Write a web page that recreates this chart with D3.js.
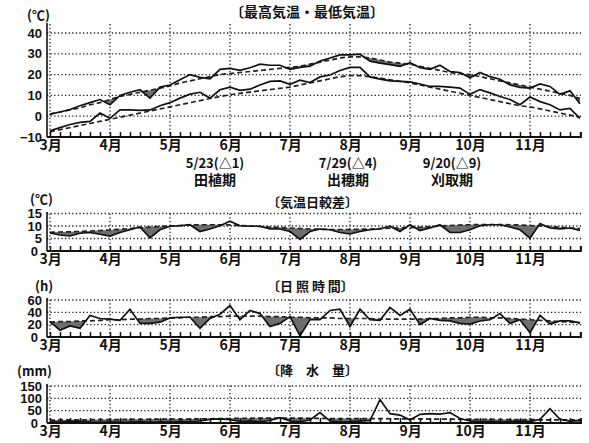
<!DOCTYPE html>
<html>
<head>
<meta charset="utf-8">
<script src="https://cdnjs.cloudflare.com/ajax/libs/d3/7.8.5/d3.min.js"></script>
<style>
body { margin: 0; background: #fff; }
text { font-family: "Noto Sans CJK JP", "DejaVu Sans", sans-serif; fill: #111; }
</style>
</head>
<body>
<div id="chart"></div>
<script>
// half-month (pentad) values, March 1st pentad .. November 6th pentad
var months = ['3月', '4月', '5月', '6月', '7月', '8月', '9月', '10月', '11月'];

var maxTemp = [1, 2, 3.2, 5, 6.5, 8, 5.5, 10, 11.5, 12.7, 8.7, 14, 15, 17.5, 20, 18.7, 18, 22.5,
    23, 22, 23.3, 25, 24.5, 24.5, 22.5, 23.5, 24, 26.5, 28, 29.5, 29.5, 29.8, 26.5, 25.5, 24.8, 24,
    25.7, 23.3, 22.5, 24.5, 21.5, 21, 18.5, 21, 19, 17.8, 15, 13.8, 13.5, 15.5, 14.3, 10.5, 12.2, 6];
var maxTempNormal = [1, 2, 3, 4, 5.5, 6.5, 8, 9.5, 10.5, 11.5, 12.5, 13.5, 14.5, 16, 17, 18, 19, 20,
    20.5, 21, 21.5, 22, 22.5, 23, 23.5, 24, 25, 26, 27, 28, 28.5, 28.5, 28, 27, 26, 25.5,
    25, 24, 23, 22, 21, 20.5, 20, 19, 18, 17, 16, 15, 14, 13, 12, 11, 10, 8.5];
var minTemp = [-7, -5.5, -4, -3, -2.5, 1.5, -1, 3, 3, 2.8, 3, 5, 6.5, 8.7, 10.6, 11.5, 8.7, 12.7,
    14, 12.4, 13, 15, 16.7, 17, 15.3, 17.3, 16.2, 18.9, 19.8, 22, 23.5, 23.5, 18.9, 17.8, 17, 16.7,
    16.5, 15.5, 14.3, 14.3, 14, 13.5, 10.5, 12.8, 11.2, 9.5, 8, 5.5, 9.2, 7, 5.5, 3, 3.8, -1];
var minTempNormal = [-7.5, -6.5, -5.5, -4.5, -3.5, -2.5, -1.5, -0.5, 0.5, 1.5, 2.5, 3.5, 4.5, 5.5, 6.5, 7.5, 8.5, 9.5,
    10.3, 11, 11.6, 12.2, 12.8, 13.4, 14, 15, 16, 17, 18, 19, 19.5, 19.5, 19, 18.3, 17.5, 16.8,
    16, 15, 14, 13, 12, 11, 10, 9, 8, 7, 6, 5, 4.5, 3.5, 2.5, 1.5, 0.5, -0.5];

var tempRange = [7.2, 6.4, 6, 7.1, 7.4, 6.7, 6, 7.4, 8.5, 9.6, 5.3, 8.5, 9.9, 10.1, 10.5, 7.8, 8.8, 10.1,
    11.9, 10.1, 9.9, 9.9, 8.8, 8.8, 7.8, 4.6, 7.8, 8.8, 8.5, 7.4, 6.8, 7.8, 8.5, 8.8, 9.9, 7.8,
    10.5, 8.2, 9.2, 10.5, 7.4, 7.4, 8.5, 10.1, 10.5, 10.5, 9.6, 8.5, 5.1, 11, 9.2, 8.8, 9.2, 8.2];
var tempRangeNormal = [7.5, 7.6, 7.7, 7.8, 8, 8.2, 8.4, 8.7, 9, 9.3, 9.6, 9.8, 10, 10.2, 10.4, 10.5, 10.5, 10.5,
    10.4, 10.2, 10, 9.8, 9.6, 9.4, 9.2, 9, 8.8, 8.7, 8.6, 8.6, 8.6, 8.7, 8.8, 9, 9.1, 9.2,
    9.3, 9.5, 9.7, 10, 10.2, 10.4, 10.5, 10.6, 10.6, 10.6, 10.5, 10.4, 10.2, 10, 9.8, 9.5, 9.2, 9];

var sunshine = [25, 11, 18, 14, 35, 30, 29, 27, 45, 22, 22, 24, 31, 32, 32, 14, 30, 37,
    51, 28, 43, 38, 17, 22, 33, 2, 28, 28, 43, 45, 17, 45, 28, 27, 48, 35,
    45, 20, 30, 27, 26, 22, 21, 26, 28, 38, 22, 28, 7, 35, 21, 26, 26, 23];
var sunshineNormal = [24, 25, 25, 26, 26, 27, 28, 28, 29, 29, 30, 30, 31, 31, 32, 32, 33, 33,
    34, 34, 34, 34, 33, 33, 32, 32, 31, 31, 31, 30, 30, 30, 30, 29, 29, 29,
    29, 29, 30, 30, 31, 31, 32, 32, 31, 31, 30, 29, 28, 27, 26, 25, 24, 23];

var rain = [5, 3, 8, 6, 4, 3, 5, 3, 4, 6, 3, 5, 4, 6, 5, 8, 15, 17,
    14, 6, 8, 5, 10, 22, 8, 5, 12, 42, 8, 5, 6, 8, 10, 95, 38, 32,
    12, 35, 38, 36, 42, 18, 8, 5, 6, 4, 6, 8, 5, 15, 58, 15, 8, 10];
var rainNormal = [12, 12, 13, 13, 13, 14, 14, 14, 15, 15, 15, 16, 16, 16, 16, 17, 17, 18,
    18, 19, 19, 20, 20, 20, 20, 20, 19, 19, 18, 18, 18, 18, 18, 18, 17, 17,
    17, 17, 16, 16, 16, 15, 15, 15, 15, 14, 14, 14, 14, 13, 13, 13, 13, 13];

// stage annotations
var stageIndex = [16.5, 29.8, 40.2];
var stageDate = ['5/23(△1)', '7/29(△4)', '9/20(△9)'];
var stageName = ['田植期', '出穂期', '刈取期'];

var width = 589;
var height = 443;
var axisLeftX = 47;
var axisRightX = 581;

var svg = d3.select('#chart')
    .append('svg')
    .attr('width', width)
    .attr('height', height);

var x_scale = d3.scaleLinear()
    .domain([0, 53])
    .range([50, 580]);

var pentads = d3.range(54);

var panels = [
    {title: '〔最高気温・最低気温〕', titleX: 230, titleY: 17, unit: '(℃)', unitX: 27, unitY: 20,
     domain: [-10, 40], ticks: [-10, 0, 10, 20, 30, 40], top: 33, bottom: 137, axisTop: 23,
     series: [[maxTemp, maxTempNormal], [minTemp, minTempNormal]]},
    {title: '〔気温日較差〕', titleX: 267, titleY: 207, unit: '(℃)', unitX: 30, unitY: 204,
     domain: [0, 15], ticks: [0, 5, 10, 15], top: 213.5, bottom: 251, axisTop: 212,
     series: [[tempRange, tempRangeNormal]]},
    {title: '〔日 照 時 間〕', titleX: 267, titleY: 291, unit: '(h)', unitX: 35, unitY: 291,
     domain: [0, 60], ticks: [0, 20, 40, 60], top: 300, bottom: 337, axisTop: 298,
     series: [[sunshine, sunshineNormal]]},
    {title: '〔降　水　量〕', titleX: 267, titleY: 375, unit: '(mm)', unitX: 17, unitY: 376,
     domain: [0, 150], ticks: [0, 50, 100, 150], top: 386, bottom: 423, axisTop: 384,
     series: [[rain, rainNormal]]}
];

var clipId = 0;

panels.forEach(function(p, k) {
    var g = svg.append('g');
    var y_scale = d3.scaleLinear().domain(p.domain).range([p.bottom, p.top]);

    // dotted grid
    g.selectAll('.hgrid')
        .data(p.ticks.slice(1))
        .enter()
        .append('line')
        .attr('x1', axisLeftX)
        .attr('x2', axisRightX)
        .attr('y1', function(d) { return y_scale(d); })
        .attr('y2', function(d) { return y_scale(d); })
        .attr('stroke', '#222')
        .attr('stroke-width', 1.3)
        .attr('stroke-dasharray', '1.3,2.3');

    g.selectAll('.vgrid')
        .data(d3.range(0, 54, 6))
        .enter()
        .append('line')
        .attr('x1', function(d) { return x_scale(d); })
        .attr('x2', function(d) { return x_scale(d); })
        .attr('y1', p.bottom)
        .attr('y2', p.axisTop)
        .attr('stroke', '#222')
        .attr('stroke-width', 1.3)
        .attr('stroke-dasharray', '1.3,2.3');

    // grey where observed is below normal
    p.series.forEach(function(s) {
        var obs = s[0], norm = s[1];
        clipId++;
        var belowNormal = d3.area()
            .x(function(i) { return x_scale(i); })
            .y0(height)
            .y1(function(i) { return y_scale(norm[i]); });
        svg.append('clipPath')
            .attr('id', 'clip' + clipId)
            .append('path')
            .attr('d', belowNormal(pentads));
        var aboveObs = d3.area()
            .x(function(i) { return x_scale(i); })
            .y0(function(i) { return y_scale(obs[i]); })
            .y1(0);
        g.append('path')
            .attr('d', aboveObs(pentads))
            .attr('clip-path', 'url(#clip' + clipId + ')')
            .attr('fill', '#6e6e6e');
    });

    // lines
    p.series.forEach(function(s) {
        var line = function(arr) {
            return d3.line()
                .x(function(i) { return x_scale(i); })
                .y(function(i) { return y_scale(arr[i]); })(pentads);
        };
        g.append('path')
            .attr('d', line(s[1]))
            .attr('fill', 'none')
            .attr('stroke', '#222')
            .attr('stroke-width', 1.7)
            .attr('stroke-dasharray', '5,3');
        g.append('path')
            .attr('d', line(s[0]))
            .attr('fill', 'none')
            .attr('stroke', '#111')
            .attr('stroke-width', 1.7);
    });

    // axes lines
    g.append('line')
        .attr('x1', axisLeftX).attr('x2', axisLeftX)
        .attr('y1', p.bottom).attr('y2', p.axisTop)
        .attr('stroke', '#111').attr('stroke-width', 1.6);
    g.append('path')
        .attr('d', 'M' + axisLeftX + ',' + p.bottom + 'H' + axisRightX + 'V' + (p.bottom - 5))
        .attr('fill', 'none')
        .attr('stroke', '#111').attr('stroke-width', 1.8);

    // pentad ticks
    var tickAxis = g.append('g')
        .attr('transform', 'translate(0,' + p.bottom + ')')
        .call(d3.axisBottom(x_scale).tickValues(pentads).tickSize(-5).tickFormat(''));
    tickAxis.select('.domain').remove();
    tickAxis.selectAll('line').attr('stroke', '#111').attr('stroke-width', 1.5);

    // month labels
    var monthAxis = g.append('g')
        .attr('transform', 'translate(0,' + p.bottom + ')')
        .call(d3.axisBottom(x_scale)
            .tickValues(d3.range(0, 54, 6))
            .tickFormat(function(d, i) { return months[i]; })
            .tickSize(0)
            .tickPadding(3));
    monthAxis.select('.domain').remove();
    monthAxis.selectAll('text')
        .style('font-size', '14px')
        .style('font-weight', 'bold')
        .style('font-family', '"Noto Sans CJK JP", sans-serif');

    // y labels
    var yAxis = g.append('g')
        .attr('transform', 'translate(' + axisLeftX + ',0)')
        .call(d3.axisLeft(y_scale).tickValues(p.ticks).tickSize(0).tickPadding(5));
    yAxis.select('.domain').remove();
    yAxis.selectAll('text')
        .style('font-size', '13px')
        .style('font-weight', 'bold')
        .style('font-family', '"Liberation Sans", Arial, sans-serif');
    // lowest label sits a little left of the corner
    if (k > 0) {
        yAxis.selectAll('text')
            .filter(function(d) { return d === p.domain[0]; })
            .attr('x', -9);
    }

    // title and unit
    g.append('text')
        .attr('x', p.titleX)
        .attr('y', p.titleY)
        .style('font-size', k === 0 ? '14px' : '13px')
        .style('font-weight', 'bold')
        .text(p.title);
    g.append('text')
        .attr('x', p.unitX)
        .attr('y', p.unitY)
        .style('font-size', '13px')
        .style('font-weight', 'bold')
        .text(p.unit);
});

// crop stage notes under the temperature panel
svg.selectAll('.stageDate')
    .data(stageIndex)
    .enter()
    .append('text')
    .attr('x', function(d) { return x_scale(d); })
    .attr('y', 168)
    .attr('text-anchor', 'middle')
    .style('font-size', '13px')
    .style('font-weight', 'bold')
    .text(function(d, i) { return stageDate[i]; });

svg.selectAll('.stageName')
    .data(stageIndex)
    .enter()
    .append('text')
    .attr('x', function(d) { return x_scale(d); })
    .attr('y', 185)
    .attr('text-anchor', 'middle')
    .style('font-size', '14px')
    .style('font-weight', 'bold')
    .text(function(d, i) { return stageName[i]; });
</script>
</body>
</html>
